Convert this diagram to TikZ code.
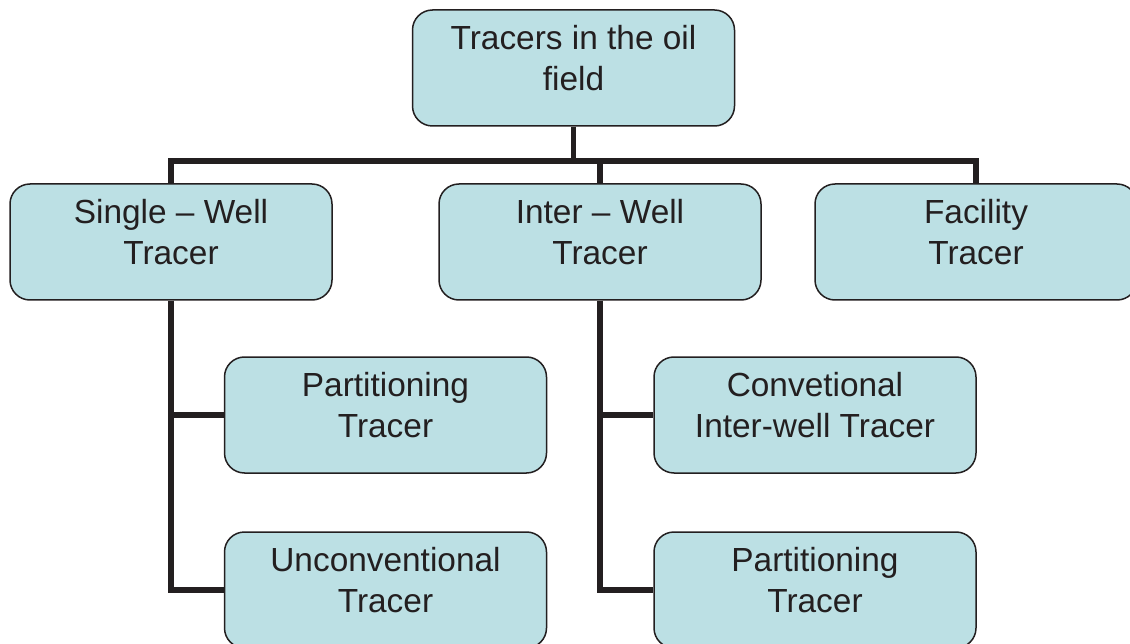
\documentclass[tikz,border=0pt]{standalone}
\usepackage{fontspec}
\setmainfont{Liberation Sans}
\definecolor{boxfill}{HTML}{BCE0E4}
\definecolor{ink}{HTML}{231F20}
\begin{document}
\begin{tikzpicture}[x=1pt,y=-1pt,
  box/.style={draw=ink, line width=1.5pt, fill=boxfill, rounded corners=20pt,
    minimum width=322pt, minimum height=116pt, inner sep=0pt},
  lbl/.style={align=center, text=ink, font=\fontsize{33.4}{40.5}\selectfont, yshift=10pt, inner sep=0pt},
  conn/.style={draw=ink, line width=5.5pt}]
\useasboundingbox (0,0) rectangle (1130,644);
\clip (0,0) rectangle (1130,644);
\node[box, label={[lbl]center:Tracers in the oil\\field}] (root) at (573.5,68) {};
\node[box, label={[lbl]center:Single -- Well\\Tracer}] (single) at (171,242) {};
\node[box, label={[lbl]center:Inter -- Well\\Tracer}] (inter) at (600,242) {};
\node[box, label={[lbl]center:Facility\\Tracer}] (facility) at (976,242) {};
\node[box, label={[lbl]center:Partitioning\\Tracer}] (part1) at (385.5,415) {};
\node[box, label={[lbl]center:Unconventional\\Tracer}] (unconv) at (385.5,590) {};
\node[box, label={[lbl]center:Convetional\\Inter-well Tracer}] (conv) at (815,415) {};
\node[box, label={[lbl]center:Partitioning\\Tracer}] (part2) at (815,590) {};
\coordinate (bar) at (573.5,161);
\draw[conn] (root.south) -- (bar);
\draw[conn] (single.north) |- (facility.north |- bar) -- (facility.north);
\draw[conn] (inter.north) -- (inter.north |- bar);
\draw[conn] (single.south) |- (part1.west);
\draw[conn] (single.south) |- (unconv.west);
\draw[conn] (inter.south) |- (conv.west);
\draw[conn] (inter.south) |- (part2.west);
\end{tikzpicture}
\end{document}
